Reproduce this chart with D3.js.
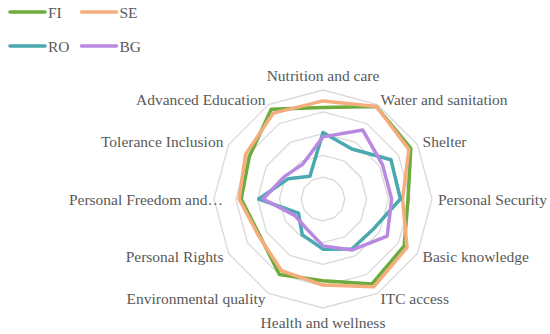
<!DOCTYPE html>
<html>
<head>
<meta charset="utf-8">
<script src="https://cdn.jsdelivr.net/npm/d3@7"></script>
<style>
  body { margin: 0; background: #fff; }
  svg { display: block; font-family: "Liberation Serif", "Times New Roman", serif; }
</style>
</head>
<body>
<svg id="chart" width="550" height="334"></svg>
<script>
// Axis labels, clockwise from the top
const axes = ["Nutrition and care", "Water and sanitation", "Shelter", "Personal Security",
  "Basic knowledge", "ITC access", "Health and wellness", "Environmental quality",
  "Personal Rights", "Personal Freedom and\u2026", "Tolerance Inclusion", "Advanced Education"];

const fi = [0.84, 0.98, 0.93, 0.78, 0.86, 0.90, 0.75, 0.80, 0.67, 0.75, 0.78, 0.95];
const se = [0.90, 0.98, 0.91, 0.73, 0.89, 0.93, 0.79, 0.76, 0.68, 0.77, 0.82, 0.91];
const ro = [0.61, 0.53, 0.72, 0.71, 0.54, 0.53, 0.46, 0.38, 0.26, 0.59, 0.37, 0.24];
const bg = [0.57, 0.73, 0.63, 0.63, 0.68, 0.54, 0.43, 0.31, 0.30, 0.55, 0.41, 0.37];

const seriesNames = ["FI", "SE", "RO", "BG"];
const seriesColors = ["#6cab3c", "#f5ad7d", "#4aa9b0", "#b988e0"];
const gridTicks = [0.2, 0.4, 0.6, 0.8, 1.0];

const svg = d3.select('#chart');
const cx = 323, cy = 199, R = 109;

const r = d3.scaleLinear().domain([0, 1]).range([0, R]);
// n axes spread over the full circle, 0 at 12 o'clock, clockwise
const angle = d3.scalePoint()
  .domain(axes)
  .range([0, 2 * Math.PI * (axes.length - 1) / axes.length]);

const g = svg.append('g').attr('transform', `translate(${cx},${cy})`);

// Grid rings (polygons, no spokes)
const ringLine = d3.lineRadial()
  .angle(d => angle(d))
  .curve(d3.curveLinearClosed);

gridTicks.forEach(t => {
  g.append('path')
    .attr('d', ringLine.radius(r(t))(axes))
    .attr('fill', 'none')
    .attr('stroke', '#d9d9d9')
    .attr('stroke-width', 1.3);
});

// Series lines
const dataLine = d3.lineRadial()
  .angle((d, i) => angle(axes[i]))
  .radius(d => r(d))
  .curve(d3.curveLinearClosed);

[fi, se, ro, bg].forEach((vals, k) => {
  g.append('path')
    .attr('d', dataLine(vals))
    .attr('fill', 'none')
    .attr('stroke', seriesColors[k])
    .attr('stroke-width', 3.5)
    .attr('stroke-linejoin', 'round');
});

// Axis labels
axes.forEach(name => {
  const a = angle(name);
  const s = Math.sin(a), c = Math.cos(a);
  let lr = R + 6;
  if (s < -0.99) lr = R - 9; // truncated label sits over the ring
  let x = lr * s;
  let y = -lr * c;
  if (c > 0.99) y -= 9;
  if (c < -0.99) y += 8;
  const anchor = Math.abs(s) < 0.01 ? 'middle' : (s > 0 ? 'start' : 'end');
  g.append('text')
    .attr('x', x)
    .attr('y', y)
    .attr('text-anchor', anchor)
    .attr('dominant-baseline', 'central')
    .attr('font-size', 15.5)
    .attr('fill', '#595959')
    .text(name);
});

// Legend
const legend = svg.append('g');
seriesNames.forEach((name, i) => {
  const col = i % 2, row = Math.floor(i / 2);
  const lx = 10 + col * 71.5, ly = 12 + row * 34;
  legend.append('line')
    .attr('x1', lx).attr('x2', lx + 35)
    .attr('y1', ly).attr('y2', ly)
    .attr('stroke', seriesColors[i])
    .attr('stroke-width', 3.5)
    .attr('stroke-linecap', 'round');
  legend.append('text')
    .attr('x', lx + 38)
    .attr('y', ly)
    .attr('dominant-baseline', 'central')
    .attr('font-size', 15.5)
    .attr('fill', '#595959')
    .text(name);
});
</script>
</body>
</html>
